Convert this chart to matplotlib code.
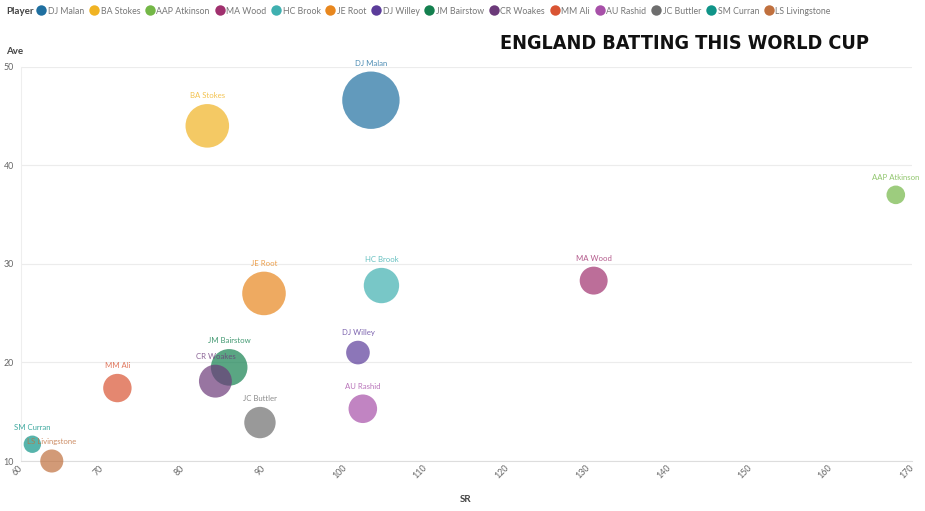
import matplotlib
matplotlib.use("Agg")
import matplotlib.pyplot as plt
from matplotlib.lines import Line2D
from matplotlib import font_manager

players = ["DJ Malan", "BA Stokes", "AAP Atkinson", "MA Wood", "HC Brook", "JE Root",
           "DJ Willey", "JM Bairstow", "CR Woakes", "MM Ali", "AU Rashid", "JC Buttler",
           "SM Curran", "LS Livingstone"]
sr = [103.2, 83.0, 168.0, 130.7, 104.5, 90.0, 101.6, 85.7, 84.0, 71.9, 102.2, 89.5, 61.4, 63.8]
ave = [46.6, 44.0, 37.0, 28.3, 27.8, 27.0, 21.0, 19.5, 18.1, 17.4, 15.3, 13.9, 11.7, 10.0]
runs = [371, 214, 39, 88, 141, 214, 63, 151, 122, 91, 92, 111, 34, 60]
colors = ["#1f6fa0", "#f0b323", "#74b747", "#a0306e", "#3fb0b0", "#e8871e", "#5b3c9a",
          "#14804f", "#6c3a7a", "#d95433", "#a750a8", "#6e6e6e", "#109488", "#c0703e"]
xticks = [60, 70, 80, 90, 100, 110, 120, 130, 140, 150, 160, 170]
yticks = [10, 20, 30, 40, 50]
title = "ENGLAND BATTING THIS WORLD CUP"

plt.rcParams['font.family'] = ['Lato', 'DejaVu Sans']

fig = plt.figure(figsize=(9.25, 5.11), dpi=100)
ax = fig.add_axes([21/925, 1-461/511, (912-21)/925, (461-66.7)/511])
ax.set_xlim(60, 170)
ax.set_ylim(10, 50)

SIZE_K = 4.6
for p, x, y, r, c in zip(players, sr, ave, runs, colors):
    s = r * SIZE_K
    ax.scatter([x], [y], s=s, color=c, alpha=0.7, edgecolors='none', clip_on=False, zorder=3)
    rad_pt = (s ** 0.5) / 2
    ax.annotate(p, (x, y), xytext=(0, rad_pt + 3.5), textcoords='offset points',
                ha='center', va='bottom', fontsize=5.6, color=c, alpha=0.8, zorder=4,
                annotation_clip=False)

ax.set_xticks(xticks)
ax.set_yticks(yticks)
ax.grid(axis='y', color='#ececec', linewidth=0.8)
ax.set_axisbelow(True)
for side in ['top', 'right']:
    ax.spines[side].set_visible(False)
ax.spines['left'].set_color('#eeeeee')
ax.spines['bottom'].set_color('#dddddd')
ax.spines['left'].set_linewidth(0.8)
ax.spines['bottom'].set_linewidth(0.8)
ax.tick_params(axis='both', length=0, labelsize=6.4, colors='#666666')
ax.tick_params(axis='y', pad=5)
ax.tick_params(axis='x', pad=4)
for lbl in ax.get_xticklabels():
    lbl.set_rotation(45)
    lbl.set_ha('right')
    lbl.set_rotation_mode('anchor')
    lbl.set_va('center')

fig.text(6/925, 1-51/511, "Ave", fontsize=7, fontweight='bold', color='#444444', va='center', ha='left')
fig.text(466/925, 1-500/511, "SR", fontsize=7, fontweight='bold', color='#444444', va='center', ha='center')

# legend
fig.text(6/925, 1-11/511, "Player", fontsize=7, fontweight='bold', color='#444444', va='center', ha='left')
handles = [Line2D([0], [0], marker='o', linestyle='none', markersize=7.5, markerfacecolor=c,
                  markeredgecolor='none') for c in colors]
leg = fig.legend(handles, players, loc='center left', bbox_to_anchor=(37/925, 1-11/511),
                 ncol=len(players), frameon=False, fontsize=6.3, handletextpad=0.25,
                 columnspacing=0.62, handlelength=1.0, borderaxespad=0, borderpad=0)
for t in leg.get_texts():
    t.set_color('#777777')

# title: pick a condensed family if one exists
cond = [f for f in font_manager.fontManager.ttflist
        if f.stretch in ('condensed', 'semi-condensed', 'extra-condensed') or 'Condensed' in f.name or 'Narrow' in f.name]
tkw = dict(fontweight='heavy', color='#111111', ha='center', va='center')
if cond:
    tkw['family'] = [cond[0].name, 'DejaVu Sans']
    tkw['fontstretch'] = cond[0].stretch
else:
    tkw['family'] = ['Lato', 'DejaVu Sans']
ttl = fig.text(684/925, 1-43/511, title, fontsize=20, **tkw)
renderer = fig.canvas.get_renderer()
w = ttl.get_window_extent(renderer).width
ttl.set_fontsize(20 * 368 / w)

fig.savefig("out.png", dpi=100)
